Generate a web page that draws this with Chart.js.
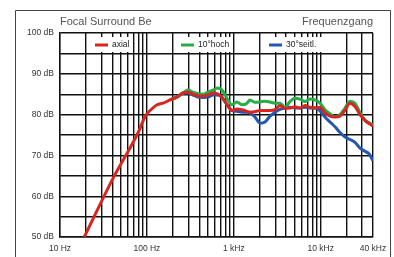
<!DOCTYPE html>
<html>
<head>
<meta charset="utf-8">
<script src="https://cdn.jsdelivr.net/npm/chart.js@4.4.1/dist/chart.umd.min.js"></script>
<style>
  html, body { margin: 0; padding: 0; background: #fff; }
  #wrap { width: 394px; height: 257px; position: relative; }
</style>
</head>
<body>
<div id="wrap"><canvas id="chart"></canvas></div>
<script>
// Frequenzgang values
const freqHz = [19, 41, 83, 90, 97, 109, 131, 153, 185, 222, 260, 297, 339, 387, 442, 505, 577, 658, 731, 835, 953,
  1089, 1243, 1420, 1536, 1754, 2002, 2286, 2610, 2980, 3403, 3885, 4436, 5064, 5783, 6603, 7537, 8605, 9823,
  11210, 12800, 14610, 16680, 19050, 21740, 24820, 28330, 32350, 35980, 40000];

const axial = [50, 64.5, 76.5, 78.4, 79.8, 81, 82.4, 82.8, 83.6, 84.3, 85.3, 85.5, 85, 84.6, 84.5, 84.8, 85.3, 85, 84.3, 82.5, 81,
  81.4, 81.2, 80.8, 80.6, 80.7, 81, 81, 81, 81.2, 82.2, 81.5, 81.6, 81.9, 81.6, 82.2, 81.8, 81.6, 81.8,
  80.4, 79.6, 79.4, 79.6, 81.1, 82.8, 82, 80, 78.6, 77.8, 77.2];

const hoch10 = [null, null, null, null, null, null, null, null, 83.6, 84.3, 85.3, 86, 85.5, 85.1, 85, 85.5, 86, 86.5, 86, 84, 82.4,
  83.1, 82.4, 82.8, 83.6, 83, 83.1, 83.3, 83.1, 82.8, 82.8, 81.8, 83.2, 84, 83.8, 83.2, 83.8, 83.6, 82.8,
  81.2, 80.2, 79.5, 80, 81.6, 83.3, 82.8, 80.5, 78.6, 78, 77.5];

const seitl30 = [null, null, null, null, null, null, null, null, 83.6, 84.3, 85.2, 85.3, 84.8, 84.3, 84.2, 84.3, 84.8, 84.8, 84.2, 82.4, 81,
  80.8, 80.6, 80.6, 80.4, 79.4, 77.9, 78.2, 79.6, 80.6, 81.3, 81.6, 81.8, 81.6, 81.6, 81.8, 81.6, 81.6, 80.9,
  79.4, 78.2, 77, 75.6, 74.5, 73.9, 73.2, 71.8, 71, 70.4, 68.7];

const seriesNames = ['axial', '10°hoch', '30°seitl.'];
const seriesColors = ['#d8251d', '#25ad48', '#2257b3'];

// grid positions and labels
const xGridHz = [];
[10, 100, 1000, 10000].forEach(d => {
  for (let m = 1; m <= 9; m++) if (d * m <= 40000) xGridHz.push(d * m);
});
const xLabels = { 10: '10 Hz', 100: '100 Hz', 1000: '1 kHz', 10000: '10 kHz', 40000: '40 kHz' };
const yLabels = { 50: '50 dB', 60: '60 dB', 70: '70 dB', 80: '80 dB', 90: '90 dB', 100: '100 dB' };

const FONT = '"Liberation Sans", Arial, sans-serif';

const toPoints = vals => freqHz.map((f, i) => ({ x: f, y: vals[i] }));

// title texts, outer frame and legend boxes
const decorPlugin = {
  id: 'decor',
  beforeDatasetsDraw(chart) {
    const { ctx, chartArea } = chart;
    ctx.save();
    // legend boxes sitting on the grid
    const items = [
      { x: 90, w: 42 },
      { x: 176, w: 57 },
      { x: 264, w: 59 }
    ];
    ctx.font = '8.5px ' + FONT;
    ctx.textBaseline = 'middle';
    items.forEach((it, i) => {
      ctx.fillStyle = '#fff';
      ctx.fillRect(it.x, chartArea.top + 4, it.w, 15);
      ctx.strokeStyle = seriesColors[i];
      ctx.lineWidth = 3;
      ctx.beginPath();
      ctx.moveTo(it.x + 5, chartArea.top + 12);
      ctx.lineTo(it.x + 18, chartArea.top + 12);
      ctx.stroke();
      ctx.fillStyle = '#222';
      ctx.fillText(seriesNames[i], it.x + 22, chartArea.top + 12);
    });
    ctx.restore();
  },
  afterDraw(chart) {
    const { ctx, chartArea } = chart;
    ctx.save();
    ctx.strokeStyle = '#444';
    ctx.lineWidth = 1;
    ctx.beginPath();
    ctx.moveTo(15.5, 260);
    ctx.lineTo(15.5, 10.5);
    ctx.lineTo(390.5, 10.5);
    ctx.lineTo(390.5, 260);
    ctx.stroke();
    ctx.fillStyle = '#555';
    ctx.font = '11px ' + FONT;
    ctx.textBaseline = 'alphabetic';
    ctx.textAlign = 'left';
    ctx.fillText('Focal Surround Be', chartArea.left, 25);
    ctx.textAlign = 'right';
    ctx.fillText('Frequenzgang', chartArea.right, 25);
    ctx.restore();
  }
};

new Chart(document.getElementById('chart'), {
  type: 'line',
  data: {
    datasets: [
      { label: seriesNames[0], data: toPoints(axial), borderColor: seriesColors[0] },
      { label: seriesNames[1], data: toPoints(hoch10), borderColor: seriesColors[1] },
      { label: seriesNames[2], data: toPoints(seitl30), borderColor: seriesColors[2] }
    ].map(ds => Object.assign(ds, {
      borderWidth: 3,
      pointRadius: 0,
      cubicInterpolationMode: 'monotone',
      fill: false
    }))
  },
  options: {
    responsive: true,
    maintainAspectRatio: false,
    animation: false,
    layout: { padding: { left: 15, top: 33, right: 21, bottom: 0 } },
    plugins: {
      legend: { display: false },
      tooltip: { enabled: false }
    },
    scales: {
      x: {
        type: 'logarithmic',
        min: 10,
        max: 40000,
        afterBuildTicks: scale => { scale.ticks = xGridHz.map(v => ({ value: v })); },
        afterFit: scale => { scale.height = 20; },
        ticks: {
          autoSkip: false,
          maxRotation: 0,
          padding: 7,
          color: '#333',
          font: { family: FONT, size: 8.5 },
          callback: v => xLabels[v] || ''
        },
        grid: { color: '#111', lineWidth: 1.4, drawTicks: false },
        border: { color: '#111', width: 1.4 }
      },
      y: {
        min: 50,
        max: 100,
        afterFit: scale => { scale.width = 45; },
        ticks: {
          stepSize: 5,
          padding: 6,
          color: '#333',
          font: { family: FONT, size: 8.5 },
          callback: v => yLabels[v] || ''
        },
        grid: { color: '#111', lineWidth: 1.4, drawTicks: false },
        border: { color: '#111', width: 1.4 }
      }
    }
  },
  plugins: [decorPlugin]
});
</script>
</body>
</html>
